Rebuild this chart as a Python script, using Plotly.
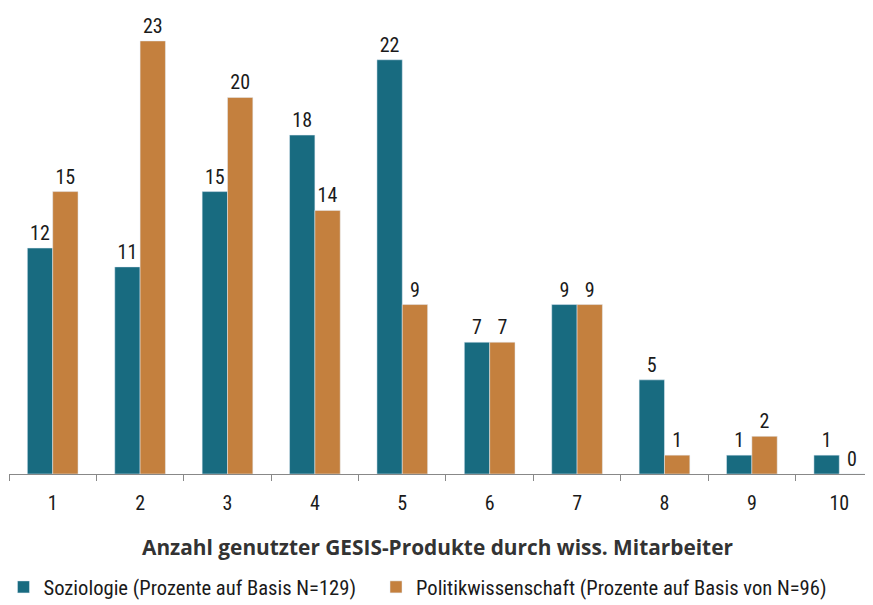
import plotly.graph_objects as go

categories = ["1", "2", "3", "4", "5", "6", "7", "8", "9", "10"]
soziologie = [12, 11, 15, 18, 22, 7, 9, 5, 1, 1]
politik = [15, 23, 20, 14, 9, 7, 9, 1, 2, 0]
name_soz = "Soziologie (Prozente auf Basis N=129)"
name_pol = "Politikwissenschaft (Prozente auf Basis von N=96)"
x_title = "Anzahl genutzter GESIS-Produkte durch wiss. Mitarbeiter"

TEAL = "#186b80"
ORANGE = "#c4803e"
FONT = "Liberation Sans Narrow, Roboto Condensed, DejaVu Sans Condensed, Arial Narrow, sans-serif"

fig = go.Figure()
fig.add_trace(go.Bar(x=categories, y=soziologie, name=name_soz, marker_color=TEAL,
                     text=soziologie, textposition="outside", cliponaxis=False,
                     legend="legend",
                     textfont=dict(size=20, color="#1a1a1a", family=FONT)))
fig.add_trace(go.Bar(x=categories, y=politik, name=name_pol, marker_color=ORANGE,
                     text=politik, textposition="outside", cliponaxis=False,
                     legend="legend2",
                     textfont=dict(size=20, color="#1a1a1a", family=FONT)))

legend_common = dict(orientation="h", xanchor="left", y=-0.2425, yanchor="middle",
                     font=dict(size=20.6, family=FONT, color="#1a1a1a"),
                     itemwidth=30, bgcolor="rgba(0,0,0,0)")

fig.update_layout(
    width=865, height=597,
    margin=dict(l=1, r=0, t=0, b=131, autoexpand=False),
    paper_bgcolor="white", plot_bgcolor="white",
    barmode="group", bargap=0.42, bargroupgap=0,
    font=dict(family=FONT, size=20, color="#1a1a1a"),
    showlegend=True,
    legend=dict(x=-0.0064, **legend_common),
    legend2=dict(x=0.4248, **legend_common),
    xaxis=dict(type="category", range=[-0.5, 9.386], tickson="boundaries",
               ticks="outside", ticklen=6, tickcolor="#888", showline=True,
               linecolor="#888", linewidth=1, showgrid=False, automargin=False,
               ticklabelstandoff=11,
               tickfont=dict(size=20, family=FONT, color="#1a1a1a")),
    yaxis=dict(range=[0, 24.75], visible=False, showgrid=False, automargin=False),
    annotations=[dict(text="<b>" + x_title + "</b>", xref="paper", yref="paper",
                      x=0.4965, y=-0.1567, xanchor="center", yanchor="middle",
                      showarrow=False,
                      font=dict(size=20.85, family="Open Sans, DejaVu Sans, sans-serif", color="#333"))],
)

fig.write_html("out.html")
